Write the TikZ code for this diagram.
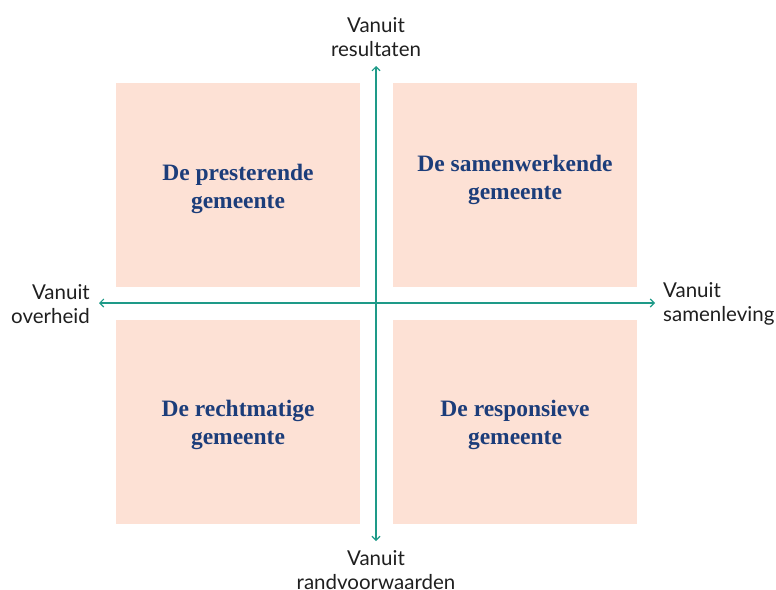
\documentclass[tikz,border=0pt]{standalone}
\usepackage{fontspec}
\setmainfont{Lato}
\newfontfamily\boxfont{Liberation Serif}
\definecolor{peach}{HTML}{FDE1D5}
\definecolor{navy}{HTML}{1C3D7A}
\definecolor{teal}{HTML}{1E9A88}
\usetikzlibrary{arrows.meta}
\begin{document}
\begin{tikzpicture}[x=1pt,y=-1pt,
  quad/.style={fill=peach,draw=none,minimum width=244pt,minimum height=204pt,inner sep=0pt,anchor=north west},
  qtext/.style={text=navy,font=\boxfont\bfseries\fontsize{23.5}{28}\selectfont,align=center},
  axis/.style={draw=teal,line width=1.1pt,{Straight Barb[length=4pt,width=8pt]}-{Straight Barb[length=4pt,width=8pt]}},
  lab/.style={font=\fontsize{20.5}{24}\selectfont,text=black!88,inner sep=0pt}]
\useasboundingbox (0,0) rectangle (776,589);
\node[quad] (tl) at (116,83) {};
\node[quad] (tr) at (393,83) {};
\node[quad] (bl) at (116,320) {};
\node[quad] (br) at (393,320) {};
\node[qtext] (tlt) at (238,189) {De presterende\\gemeente};
\node[qtext] (trt) at (515,180) {De samenwerkende\\gemeente};
\node[qtext] (blt) at (238,425) {De rechtmatige\\gemeente};
\node[qtext] (brt) at (515,425) {De responsieve\\gemeente};
\coordinate (top) at (376,66);
\coordinate (bot) at (376,541);
\coordinate (lft) at (99,303);
\coordinate (rgt) at (655,303);
\draw[axis] (bot) -- (top);
\draw[axis] (lft) -- (rgt);
\node[lab,align=center,anchor=center] (lt) at (376,37) {Vanuit\\resultaten};
\node[lab,align=center,anchor=north] (lb) at (376,550) {Vanuit\\randvoorwaarden};
\node[lab,align=right,anchor=east] (ll) at (90,304) {Vanuit\\overheid};
\node[lab,align=left,anchor=west] (lr) at (663,304) {Vanuit\\samenleving};
\end{tikzpicture}
\end{document}
